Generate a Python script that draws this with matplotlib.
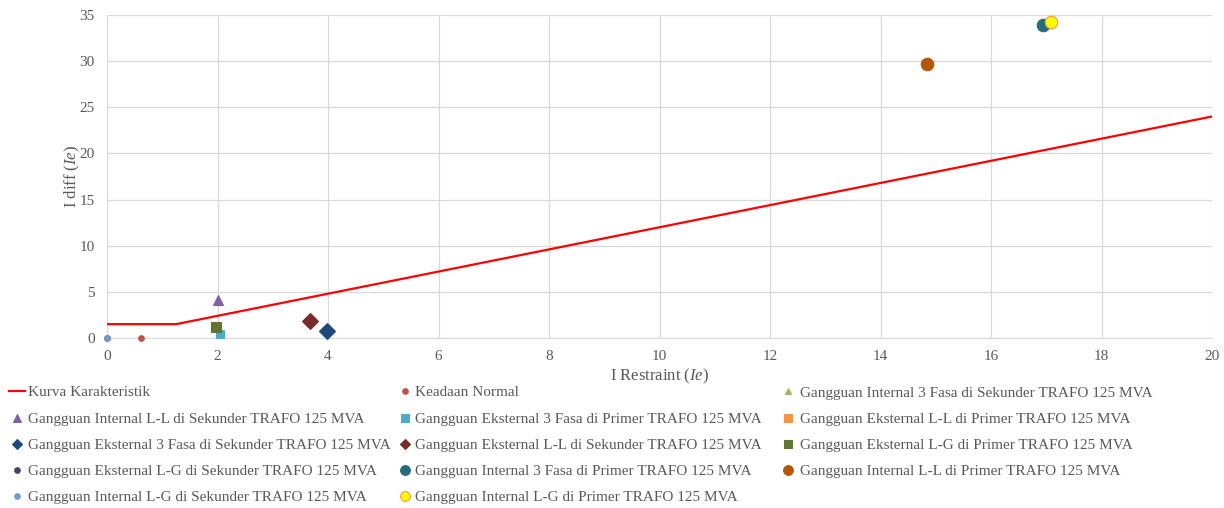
import matplotlib
matplotlib.use("Agg")
import matplotlib.pyplot as plt
from matplotlib.lines import Line2D

plt.rcParams['font.family'] = ['Liberation Serif', 'DejaVu Serif']
plt.rcParams['mathtext.fontset'] = 'custom'
plt.rcParams['mathtext.rm'] = 'Liberation Serif'
plt.rcParams['mathtext.it'] = 'Liberation Serif:italic'

TXT = '#595959'
W, H = 1224, 508

# Characteristic curve
curve_x = [0, 1.25, 20]
curve_y = [1.5, 1.5, 24]

# Scatter series
labels = [
    "Keadaan Normal",
    "Gangguan Internal 3 Fasa di Sekunder TRAFO 125 MVA",
    "Gangguan Internal L-L di Sekunder TRAFO 125 MVA",
    "Gangguan Eksternal 3 Fasa di Primer TRAFO 125 MVA",
    "Gangguan Eksternal L-L di Primer TRAFO 125 MVA",
    "Gangguan Eksternal 3 Fasa di Sekunder TRAFO 125 MVA",
    "Gangguan Eksternal L-L di Sekunder TRAFO 125 MVA",
    "Gangguan Eksternal L-G di Primer TRAFO 125 MVA",
    "Gangguan Eksternal L-G di Sekunder TRAFO 125 MVA",
    "Gangguan Internal 3 Fasa di Primer TRAFO 125 MVA",
    "Gangguan Internal L-L di Primer TRAFO 125 MVA",
    "Gangguan Internal L-G di Sekunder TRAFO 125 MVA",
    "Gangguan Internal L-G di Primer TRAFO 125 MVA",
]
xs = [0.62, 2.0, 2.0, 2.05, 1.97, 3.98, 3.67, 1.97, 0.0, 16.94, 14.84, 0.0, 17.09]
ys = [0.05, 4.0, 4.1, 0.4, 1.15, 0.75, 1.85, 1.15, 0.0, 33.9, 29.7, 0.0, 34.2]
markers = ['o', '^', '^', 's', 's', 'D', 'D', 's', 'o', 'o', 'o', 'o', 'o']
colors = ['#C0504D', '#9BBB59', '#8064A2', '#4BACC6', '#F79646', '#1F497D',
          '#772C2A', '#5F7530', '#4D3B62', '#276A7C', '#B65708', '#729ACA', '#FFFF00']
edges = ['#C0504D', '#9BBB59', '#8064A2', '#4BACC6', '#F79646', '#1F497D',
         '#772C2A', '#5F7530', '#4D3B62', '#276A7C', '#B65708', '#729ACA', '#F79646']
sizes = [4, 6, 7, 5.5, 6, 8, 8, 6.5, 4, 9, 9, 4, 9]
leg_sizes = [4, 4, 5.5, 6, 6, 5.5, 5.5, 6, 4, 7, 7, 4, 7]

fig = plt.figure(figsize=(W / 100, H / 100), dpi=100)
ax = fig.add_axes([107 / W, (H - 338) / H, (1212 - 107) / W, (338 - 15) / H])

ax.plot(curve_x, curve_y, color='#FF0000', lw=1.6, zorder=3)
for i in range(len(labels)):
    ax.plot([xs[i]], [ys[i]], marker=markers[i], ms=sizes[i], color=colors[i],
            mec=edges[i], mew=0.8, ls='none', zorder=4, clip_on=False)

ax.set_xlim(0, 20)
ax.set_ylim(0, 35)
ax.set_xticks(range(0, 21, 2))
ax.set_yticks(range(0, 36, 5))
ax.grid(True, color='#D9D9D9', lw=0.9)
ax.set_axisbelow(True)
for s in ['top', 'right', 'left']:
    ax.spines[s].set_visible(False)
ax.spines['bottom'].set_color('#D9D9D9')
ax.tick_params(axis='both', length=0, labelsize=11, labelcolor=TXT)
ax.tick_params(axis='x', pad=9)
ax.tick_params(axis='y', pad=9)

fig.text(660 / W, 1 - 376 / H, 'I Restraint $\\mathit{(Ie)}$', fontsize=12, color=TXT,
         ha='center', va='center')
fig.text(72 / W, 1 - 176 / H, 'I diff $\\mathit{(Ie)}$', fontsize=12, color=TXT,
         ha='center', va='center', rotation=90)

# Legend, laid out row-major in 3 fixed-width columns like the reference
handles = [dict(line=True)]
names = ["Kurva Karakteristik"]
for i in range(len(labels)):
    handles.append(dict(line=False, marker=markers[i], ms=leg_sizes[i],
                        color=colors[i], mec=edges[i]))
    names.append(labels[i])

col_marker_x = [17, 405, 788]
col_text_x = [28, 415, 800]
row_y = [391, 418, 444, 470, 496]
for k, (h, name) in enumerate(zip(handles, names)):
    r, c = divmod(k, 3)
    yy = 1 - row_y[r] / H
    if h['line']:
        fig.add_artist(Line2D([9 / W, 25 / W], [yy, yy], color='#FF0000', lw=1.6,
                              transform=fig.transFigure))
    else:
        fig.add_artist(Line2D([col_marker_x[c] / W], [yy], marker=h['marker'], ms=h['ms'],
                              color=h['color'], mec=h['mec'], mew=0.8, ls='none',
                              transform=fig.transFigure))
    fig.text(col_text_x[c] / W, 1 - (row_y[r] + 2) / H, name, fontsize=11, color=TXT,
             ha='left', va='center')

fig.savefig('out.png', dpi=100)
